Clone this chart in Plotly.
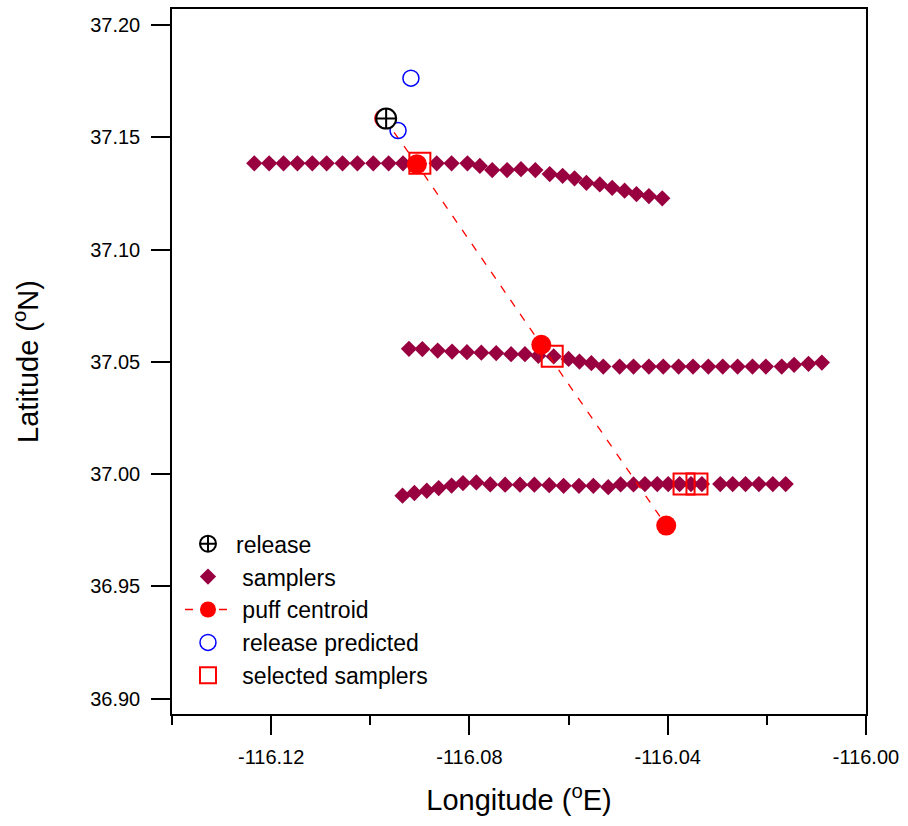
import plotly.graph_objects as go

# ---- data ----
top_lon = [-116.1234, -116.1204, -116.1175, -116.1147, -116.1117, -116.1088, -116.1056, -116.1026,
           -116.0994, -116.0963, -116.0934, -116.0902, -116.0866, -116.0836, -116.0804, -116.0779,
           -116.0754, -116.0724, -116.0696, -116.0667, -116.0638, -116.0612, -116.0588, -116.0564,
           -116.0537, -116.0512, -116.0487, -116.0463, -116.0438, -116.0411]
top_lat = [37.1384, 37.1384, 37.1384, 37.1384, 37.1384, 37.1384, 37.1384, 37.1384,
           37.1384, 37.1384, 37.1384, 37.1384, 37.1384, 37.1384, 37.1384, 37.1372,
           37.1354, 37.1354, 37.1358, 37.1354, 37.1336, 37.1328, 37.1317, 37.1297,
           37.1290, 37.1275, 37.1262, 37.1247, 37.1238, 37.1228]

mid_lon = [-116.0922, -116.0895, -116.0864, -116.0835, -116.0805, -116.0776, -116.0746, -116.0716,
           -116.0688, -116.0661, -116.0630, -116.0600, -116.0578, -116.0554, -116.0530, -116.0497,
           -116.0469, -116.0438, -116.0409, -116.0378, -116.0349, -116.0318, -116.0289, -116.0259,
           -116.0229, -116.0202, -116.0170, -116.0145, -116.0116, -116.0089]
mid_lat = [37.0558, 37.0557, 37.0550, 37.0546, 37.0543, 37.0541, 37.0539, 37.0534,
           37.0534, 37.0527, 37.0524, 37.0513, 37.0501, 37.0494, 37.0479, 37.0479,
           37.0479, 37.0479, 37.0479, 37.0479, 37.0479, 37.0479, 37.0479, 37.0479,
           37.0479, 37.0479, 37.0479, 37.0487, 37.0491, 37.0497]

bot_lon = [-116.0935, -116.0911, -116.0886, -116.0862, -116.0836, -116.0813, -116.0786, -116.0758,
           -116.0728, -116.0698, -116.0669, -116.0639, -116.0610, -116.0579, -116.0550, -116.0520,
           -116.0495, -116.0469, -116.0446, -116.0421, -116.0399, -116.0376, -116.0353, -116.0331,
           -116.0294, -116.0269, -116.0243, -116.0216, -116.0188, -116.0162]
bot_lat = [36.9904, 36.9916, 36.9926, 36.9938, 36.9949, 36.9960, 36.9963, 36.9954,
           36.9953, 36.9953, 36.9953, 36.9951, 36.9948, 36.9948, 36.9948, 36.9942,
           36.9954, 36.9954, 36.9956, 36.9956, 36.9956, 36.9956, 36.9956, 36.9956,
           36.9956, 36.9956, 36.9956, 36.9956, 36.9956, 36.9956]

puff_lon = [-116.0972, -116.0906, -116.0655, -116.0403]
puff_lat = [37.1583, 37.1380, 37.0576, 36.9771]

release_lon = [-116.0968]
release_lat = [37.1583]

pred_lon = [-116.0918, -116.0944]
pred_lat = [37.1763, 37.1530]

sel_lon = [-116.0900, -116.0633, -116.0367, -116.0341]
sel_lat = [37.1384, 37.0525, 36.9956, 36.9956]

x_tickvals = [-116.12, -116.08, -116.04, -116.00]
x_ticktext = ["-116.12", "-116.08", "-116.04", "-116.00"]
x_minorvals = [-116.14, -116.10, -116.06, -116.02]
y_tickvals = [36.90, 36.95, 37.00, 37.05, 37.10, 37.15, 37.20]
y_ticktext = ["36.90", "36.95", "37.00", "37.05", "37.10", "37.15", "37.20"]

FONT = "Liberation Sans, Arial, sans-serif"
SAMPLER_COLOR = "#990040"
NB = "\u00a0"

fig = go.Figure()

fig.add_trace(go.Scatter(
    x=top_lon + mid_lon + bot_lon, y=top_lat + mid_lat + bot_lat,
    mode="markers", name=NB + "samplers", legendrank=2,
    marker=dict(symbol="diamond", size=12.5, color=SAMPLER_COLOR, line=dict(width=0)),
))
fig.add_trace(go.Scatter(
    x=sel_lon, y=sel_lat, mode="markers", name=NB + "selected samplers", legendrank=5,
    marker=dict(symbol="square-open", size=21, color="#FF0000", line=dict(width=2, color="#FF0000")),
))
fig.add_trace(go.Scatter(
    x=puff_lon, y=puff_lat, mode="lines+markers", name=NB + "puff centroid", legendrank=3,
    line=dict(color="#FF0000", width=1.3, dash="8px,9px"),
    marker=dict(symbol="circle", size=20, color="#FF0000"),
))
fig.add_trace(go.Scatter(
    x=pred_lon, y=pred_lat, mode="markers", name=NB + "release predicted", legendrank=4,
    marker=dict(symbol="circle-open", size=16, color="#0000FF", line=dict(width=1.5, color="#0000FF")),
))
fig.add_trace(go.Scatter(
    x=release_lon, y=release_lat, mode="markers", name="release", legendrank=1,
    marker=dict(symbol="circle-cross", size=20, color="white", line=dict(width=2, color="black")),
))

axis_common = dict(
    showline=True, linecolor="black", linewidth=1.5, mirror=True,
    showgrid=False, zeroline=False, ticks="outside", tickcolor="black", tickwidth=1.5,
    tickfont=dict(family=FONT, size=20, color="black"),
)

fig.update_xaxes(
    range=[-116.14, -116.00], tickmode="array", tickvals=x_tickvals, ticktext=x_ticktext,
    ticklen=19, ticklabelstandoff=5,
    minor=dict(tickmode="array", tickvals=x_minorvals, ticks="outside", ticklen=9,
               tickcolor="black", tickwidth=1.5, showgrid=False),
    title=dict(text="Longitude (<sup>o</sup>E)", font=dict(family=FONT, size=29, color="black"), standoff=23),
    **axis_common,
)
fig.update_yaxes(
    range=[36.8932, 37.2071], tickmode="array", tickvals=y_tickvals, ticktext=y_ticktext,
    ticklen=19, ticklabelstandoff=7,
    title=dict(text="Latitude (<sup>o</sup>N)", font=dict(family=FONT, size=29, color="black"), standoff=43),
    **axis_common,
)

fig.update_layout(
    width=908, height=826,
    margin=dict(l=172, r=42, t=9, b=112, autoexpand=False),
    plot_bgcolor="white", paper_bgcolor="white",
    font=dict(family=FONT, color="black"),
    showlegend=True,
    legend=dict(x=0.0115, y=0.272, xanchor="left", yanchor="top",
                bgcolor="rgba(0,0,0,0)", borderwidth=0, itemwidth=46,
                font=dict(family=FONT, size=23, color="black")),
)

fig.write_html("out.html")
